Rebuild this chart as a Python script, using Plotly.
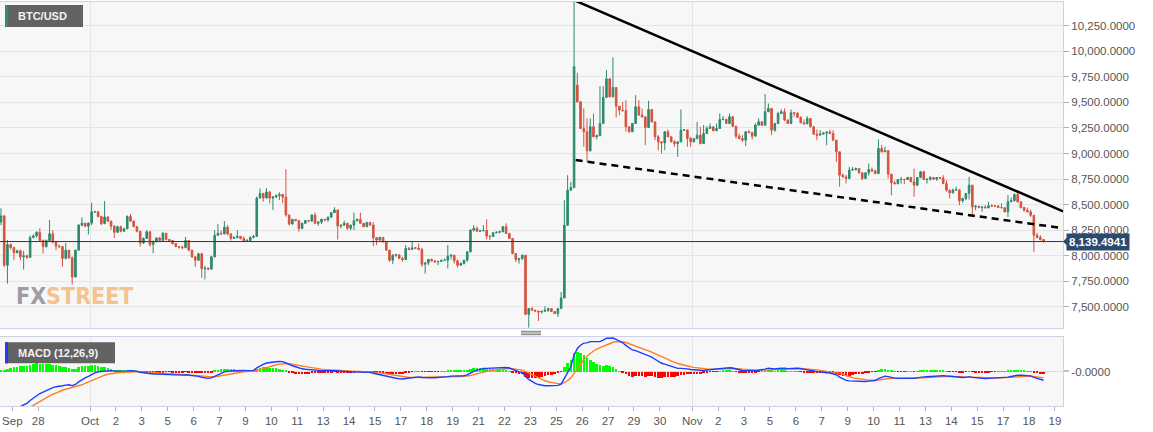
import pandas as pd
import plotly.graph_objects as go

# ---------------- data (4-hour BTC/USD candles) ----------------
start_time = "2019-09-26 10:00"
first_open = 8330
open_overrides = {178: 9669}

closes = [
    8390, 7908, 8110, 8080, 8030, 8050, 7990, 8000, 7985, 8180,
    8195, 8230, 8150, 8090, 8150, 8215, 8135, 8095, 8090, 7975,
    8055, 7980, 7793, 8055, 8300, 8320, 8290, 8320, 8430, 8430,
    8385, 8315, 8380, 8340, 8290, 8230, 8285, 8240, 8265, 8385,
    8340, 8285, 8240, 8125, 8170, 8235, 8110, 8140, 8175, 8150,
    8220, 8160, 8150, 8120, 8090, 8085, 8080, 8150, 8055, 7990,
    7957, 8020, 7875, 7880, 7870, 7990, 8200, 8220, 8215, 8280,
    8215, 8170, 8180, 8190, 8170, 8145, 8150, 8180, 8190, 8565,
    8610, 8565, 8625, 8565, 8575, 8590, 8600, 8575, 8400, 8311,
    8357, 8345, 8268, 8318, 8344, 8340, 8399, 8318, 8330, 8357,
    8350, 8377, 8422, 8449, 8291, 8300, 8318, 8270, 8300, 8344,
    8357, 8318, 8285, 8327, 8301, 8177, 8154, 8180, 8137, 8055,
    7957, 8006, 8010, 7974, 7964, 8072, 8062, 8078, 8075, 8062,
    7918, 7931, 7964, 7951, 7941, 7945, 7955, 7957, 7997, 8006,
    7951, 7908, 7925, 7957, 8039, 8252, 8268, 8240, 8245, 8248,
    8193, 8190, 8226, 8230, 8236, 8285, 8219, 8170, 8023, 7963,
    7973, 8006, 7428, 7484, 7467, 7460, 7450, 7458, 7467, 7484,
    7455, 7435, 7484, 7588, 8299, 8642, 8668, 9849, 9506, 9245,
    9213, 9027, 9262, 9164, 9175, 9294, 9549, 9731, 9555, 9646,
    9464, 9425, 9420, 9262, 9213, 9294, 9457, 9376, 9359, 9255,
    9431, 9310, 9164, 9115, 9105, 9213, 9164, 9115, 9098, 9115,
    9229, 9230, 9147, 9115, 9147, 9180, 9098, 9196, 9245, 9262,
    9223, 9245, 9333, 9335, 9294, 9360, 9268, 9170, 9147, 9131,
    9213, 9205, 9170, 9278, 9311, 9278, 9409, 9441, 9229, 9294,
    9392, 9409, 9327, 9294, 9399, 9395, 9353, 9301, 9290, 9343,
    9262, 9190, 9180, 9190, 9200, 9210, 9196, 9131, 9017, 8789,
    8772, 8756, 8838, 8844, 8854, 8812, 8756, 8812, 8844, 8830,
    8805, 9050, 9017, 9030, 8799, 8714, 8705, 8746, 8748, 8746,
    8766, 8724, 8691, 8766, 8821, 8746, 8750, 8766, 8750, 8766,
    8760, 8707, 8642, 8616, 8642, 8645, 8538, 8560, 8610, 8691,
    8479, 8485, 8472, 8478, 8470, 8490, 8488, 8486, 8472, 8470,
    8430, 8528, 8540, 8600, 8528, 8472, 8446, 8430, 8397, 8202,
    8179, 8159, 8139.4941,
]

highs = [
    8465, 8400, 8154, 8120, 8090, 8060, 8060, 8050, 8010, 8200,
    8210, 8240, 8270, 8160, 8160, 8350, 8250, 8140, 8110, 8095,
    8125, 8060, 7995, 8060, 8310, 8375, 8320, 8325, 8520, 8440,
    8440, 8390, 8535, 8385, 8340, 8300, 8295, 8295, 8275, 8395,
    8410, 8345, 8290, 8245, 8180, 8250, 8240, 8150, 8180, 8185,
    8235, 8225, 8165, 8155, 8125, 8095, 8100, 8185, 8155, 8060,
    7995, 8030, 8030, 7900, 7885, 8000, 8250, 8310, 8250, 8340,
    8300, 8220, 8190, 8250, 8195, 8190, 8165, 8190, 8205, 8580,
    8660, 8615, 8662, 8630, 8585, 8600, 8620, 8605, 8848, 8400,
    8360, 8360, 8350, 8325, 8350, 8350, 8405, 8422, 8340, 8365,
    8360, 8385, 8430, 8475, 8449, 8305, 8344, 8318, 8305, 8422,
    8365, 8422, 8320, 8330, 8330, 8327, 8180, 8185, 8180, 8137,
    8060, 8015, 8020, 8010, 7990, 8105, 8088, 8137, 8085, 8121,
    8078, 7935, 7970, 7974, 7957, 7950, 7965, 7974, 8105, 8015,
    8006, 7964, 7935, 7960, 8045, 8260, 8301, 8285, 8255, 8301,
    8357, 8200, 8230, 8240, 8245, 8290, 8318, 8220, 8170, 8025,
    7980, 8013, 8006, 7490, 7500, 7475, 7460, 7462, 7507, 7490,
    7488, 7460, 7490, 7647, 8544, 8788, 8723, 10500, 9790, 9510,
    9441, 9343, 9343, 9392, 9185, 9659, 9659, 9816, 9735, 9940,
    9650, 9464, 9506, 9522, 9265, 9300, 9571, 9522, 9441, 9360,
    9516, 9435, 9301, 9180, 9120, 9220, 9235, 9164, 9131, 9120,
    9431, 9240, 9235, 9164, 9150, 9310, 9262, 9278, 9268, 9294,
    9265, 9294, 9392, 9366, 9335, 9392, 9366, 9270, 9196, 9180,
    9220, 9229, 9213, 9294, 9343, 9311, 9582, 9490, 9441, 9300,
    9409, 9432, 9441, 9333, 9432, 9405, 9409, 9366, 9333, 9366,
    9343, 9265, 9236, 9229, 9210, 9215, 9232, 9229, 9131, 9017,
    8805, 8789, 8870, 8870, 8864, 8854, 8810, 8815, 8903, 8864,
    8844, 9138, 9082, 9066, 9033, 8799, 8735, 8750, 8772, 8752,
    8772, 8772, 8854, 8770, 8830, 8831, 8755, 8779, 8768, 8770,
    8768, 8789, 8740, 8645, 8658, 8675, 8645, 8570, 8615, 8772,
    8691, 8495, 8485, 8482, 8495, 8528, 8505, 8492, 8495, 8512,
    8472, 8593, 8570, 8610, 8626, 8528, 8479, 8472, 8453, 8397,
    8224, 8202, 8160,
]

lows = [
    8300, 7892, 7728, 8060, 7960, 8025, 7957, 7865, 7970, 7980,
    8170, 8180, 8140, 8023, 8080, 8140, 8120, 8055, 8075, 7895,
    7965, 7970, 7720, 7790, 8050, 8290, 8280, 8210, 8300, 8420,
    8375, 8300, 8310, 8330, 8255, 8175, 8225, 8230, 8235, 8260,
    8330, 8280, 8230, 8090, 8115, 8165, 8090, 8025, 8130, 8145,
    8150, 8150, 8140, 8110, 8085, 8070, 8065, 8075, 8045, 7980,
    7892, 7950, 7785, 7770, 7860, 7860, 7985, 8200, 8205, 8210,
    8200, 8150, 8165, 8170, 8160, 8135, 8140, 8140, 8170, 8185,
    8560, 8530, 8560, 8514, 8449, 8565, 8547, 8514, 8383, 8295,
    8305, 8335, 8236, 8260, 8310, 8330, 8335, 8310, 8295, 8311,
    8340, 8334, 8377, 8422, 8160, 8268, 8295, 8252, 8250, 8252,
    8334, 8311, 8280, 8280, 8295, 8095, 8105, 8150, 8130, 8050,
    7941, 7918, 7990, 7970, 7941, 7960, 8055, 8060, 8065, 8055,
    7892, 7826, 7908, 7945, 7935, 7908, 7940, 7950, 7875, 7964,
    7924, 7885, 7905, 7915, 7941, 8035, 8236, 8236, 8235, 8240,
    8160, 8154, 8185, 8220, 8220, 8230, 8215, 8165, 8015, 7941,
    7924, 7960, 7420, 7298, 7460, 7450, 7363, 7435, 7455, 7451,
    7450, 7430, 7402, 7480, 7585, 8290, 8635, 8660, 9500, 9240,
    9066, 8919, 9020, 9160, 9138, 9170, 9290, 9545, 9550, 9550,
    9353, 9376, 9410, 9213, 9205, 9210, 9290, 9370, 9350, 9082,
    9250, 9305, 9131, 9033, 9000, 9033, 9160, 9110, 9066, 8968,
    9110, 9220, 9066, 9066, 9110, 9140, 9090, 9095, 9190, 9240,
    9220, 9220, 9240, 9325, 9290, 9290, 9260, 9147, 9140, 9115,
    9072, 9200, 9138, 9170, 9275, 9270, 9275, 9405, 9180, 9213,
    9290, 9386, 9320, 9290, 9290, 9360, 9350, 9295, 9285, 9290,
    9255, 9185, 9131, 9180, 9190, 9082, 9190, 9125, 8919, 8675,
    8765, 8707, 8750, 8835, 8835, 8805, 8740, 8750, 8785, 8820,
    8795, 8798, 9010, 9015, 8756, 8593, 8700, 8700, 8705, 8701,
    8740, 8720, 8577, 8681, 8760, 8740, 8707, 8735, 8745, 8733,
    8752, 8700, 8626, 8561, 8610, 8635, 8495, 8518, 8544, 8551,
    8381, 8446, 8465, 8430, 8465, 8465, 8480, 8480, 8468, 8465,
    8425, 8381, 8525, 8530, 8520, 8463, 8430, 8425, 8381, 8039,
    8170, 8150, 8130,
]

tick_times = [
    "2019-09-27 00:00", "2019-09-28 08:00", "2019-10-01 00:00", "2019-10-02 08:00",
    "2019-10-03 16:00", "2019-10-05 00:00", "2019-10-06 08:00", "2019-10-07 16:00",
    "2019-10-09 00:00", "2019-10-10 08:00", "2019-10-11 16:00", "2019-10-13 00:00",
    "2019-10-14 08:00", "2019-10-15 16:00", "2019-10-17 00:00", "2019-10-18 08:00",
    "2019-10-19 16:00", "2019-10-21 00:00", "2019-10-22 08:00", "2019-10-23 16:00",
    "2019-10-25 00:00", "2019-10-26 08:00", "2019-10-27 16:00", "2019-10-29 00:00",
    "2019-10-30 08:00", "2019-11-01 00:00", "2019-11-02 08:00", "2019-11-03 16:00",
    "2019-11-05 00:00", "2019-11-06 08:00", "2019-11-07 16:00", "2019-11-09 00:00",
    "2019-11-10 08:00", "2019-11-11 16:00", "2019-11-13 00:00", "2019-11-14 08:00",
    "2019-11-15 16:00", "2019-11-17 00:00", "2019-11-18 08:00", "2019-11-19 16:00",
]
tick_labels = [
    "Sep", "28", "Oct", "2", "3", "5", "6", "7", "9", "10", "11", "13", "14", "15",
    "17", "18", "19", "21", "22", "23", "25", "26", "27", "29", "30", "Nov", "2", "3",
    "5", "6", "7", "9", "10", "11", "13", "14", "15", "17", "18", "19",
]
month_starts = ["2019-10-01 00:00", "2019-11-01 00:00"]

trend_upper_t = ["2019-10-25 22:00", "2019-11-20 02:00"]
trend_upper_p = [10500, 8436]
trend_lower_t = ["2019-10-26 00:00", "2019-11-20 02:00"]
trend_lower_p = [8936, 8270]
last_price = 8139.4941

macd_fast, macd_slow, macd_sig = 12, 26, 9
# indicator state carried in from before the visible window
ema_fast_seed, ema_slow_seed, signal_seed = 8360, 8975, -580

x_range = ["2019-09-26 08:48", "2019-11-20 02:00"]
price_range = [7294, 10482]

# ---------------- derived series ----------------
times = pd.date_range(start_time, periods=len(closes), freq="4h")
opens = [first_open] + closes[:-1]
for k, v in open_overrides.items():
    opens[k] = v
highs = [max(h, o, c) for h, o, c in zip(highs, opens, closes)]
lows = [min(l, o, c) for l, o, c in zip(lows, opens, closes)]

af, asl, ag = 2 / (macd_fast + 1), 2 / (macd_slow + 1), 2 / (macd_sig + 1)
ef, es, sg = ema_fast_seed, ema_slow_seed, signal_seed
macd, signal = [], []
for c in closes:
    ef += af * (c - ef)
    es += asl * (c - es)
    m = ef - es
    sg += ag * (m - sg)
    macd.append(m)
    signal.append(sg)
hist = [m - s for m, s in zip(macd, signal)]
R = max(macd) / 0.97

# ---------------- figure ----------------
GREEN = "#2c8a6e"
RED = "#d5533e"
GRID = "#e5e5e5"
BORDER = "#cdd3e6"
FONT = "Liberation Sans, Arial, sans-serif"

fig = go.Figure()
fig.add_trace(go.Candlestick(
    x=times, open=opens, high=highs, low=lows, close=closes,
    increasing=dict(line=dict(color=GREEN, width=1), fillcolor=GREEN),
    decreasing=dict(line=dict(color=RED, width=1), fillcolor=RED),
    whiskerwidth=0, xaxis="x", yaxis="y", hoverinfo="skip",
))
fig.add_trace(go.Scatter(x=trend_upper_t, y=trend_upper_p, mode="lines",
                         line=dict(color="black", width=2.5), xaxis="x", yaxis="y",
                         hoverinfo="skip"))
fig.add_trace(go.Scatter(x=trend_lower_t, y=trend_lower_p, mode="lines",
                         line=dict(color="black", width=2.5, dash="7px,5px"),
                         xaxis="x", yaxis="y", hoverinfo="skip"))

fig.add_trace(go.Bar(
    x=times, y=hist, marker=dict(color=["#00ff00" if h >= 0 else "#ff0000" for h in hist],
                                 line=dict(width=0)),
    width=4 * 3600 * 1000 * 0.8, xaxis="x2", yaxis="y2", hoverinfo="skip",
))
fig.add_trace(go.Scatter(x=times, y=signal, mode="lines", line=dict(color="#ff7f27", width=1.4),
                         xaxis="x2", yaxis="y2", hoverinfo="skip"))
fig.add_trace(go.Scatter(x=times, y=macd, mode="lines", line=dict(color="#1f3cff", width=1.4),
                         xaxis="x2", yaxis="y2", hoverinfo="skip"))

axis_common = dict(showline=True, mirror=True, linecolor=BORDER, linewidth=1, zeroline=False)

fig.update_layout(
    width=1153, height=432,
    margin=dict(l=0, r=90, t=2, b=26),
    paper_bgcolor="white", plot_bgcolor="#f7f7f7",
    showlegend=False, bargap=0,
    font=dict(family=FONT, size=11, color="#555555"),
    xaxis=dict(domain=[0, 1], anchor="y", type="date", range=x_range,
               rangeslider=dict(visible=False), showticklabels=False, ticks="",
               tickmode="array", tickvals=month_starts, showgrid=True, gridcolor=GRID,
               **axis_common),
    yaxis=dict(domain=[0.193, 1], anchor="x", side="right", range=price_range,
               tick0=0, dtick=250, tickformat=",.4f", ticks="outside", ticklen=5,
               tickcolor="#b0b0b0", showgrid=True, gridcolor=GRID,
               tickfont=dict(size=11.5, color="#555555"), **axis_common),
    xaxis2=dict(domain=[0, 1], anchor="y2", type="date", matches="x", range=x_range,
                tickmode="array", tickvals=tick_times, ticktext=tick_labels,
                ticks="outside", ticklen=4, tickcolor="#b0b0b0", showgrid=False,
                tickfont=dict(size=11.5, color="#555555"),
                minor=dict(tickmode="array", tickvals=month_starts, showgrid=True,
                           gridcolor=GRID, ticks=""),
                **axis_common),
    yaxis2=dict(domain=[0, 0.1708], anchor="x2", side="right", range=[-R, R],
                tickmode="array", tickvals=[0], ticktext=["-0.0000"], ticks="outside",
                ticklen=5, tickwidth=2, tickcolor="#c0c0c0", showgrid=True,
                gridcolor="#dcdcdc", tickfont=dict(size=11.5, color="#555555"),
                **axis_common),
)

# current price line and label
fig.add_shape(type="line", xref="x domain", yref="y", x0=0, x1=1,
              y0=last_price, y1=last_price, line=dict(color="#23395b", width=1))
tri = 4 * (price_range[1] - price_range[0]) / 326
fig.add_shape(type="path", xref="paper", yref="y", fillcolor="#2b4a6f", line=dict(width=0),
              path=f"M 1.0,{last_price} L 1.0038,{last_price + tri} L 1.0038,{last_price - tri} Z")
fig.add_annotation(x=1, xref="paper", y=last_price, yref="y", xanchor="left", yanchor="middle",
                   xshift=3, text=f"<b>{last_price:,.4f}</b>", showarrow=False,
                   font=dict(color="white", size=11.5, family=FONT),
                   bgcolor="#2b4a6f", borderpad=2)


def px(x):
    return x / 1063


def py(y):
    return (406 - y) / 404


# title boxes
fig.add_shape(type="rect", xref="paper", yref="paper", x0=px(5), x1=px(83), y0=py(27), y1=py(5),
              fillcolor="#626262", line=dict(width=0))
fig.add_shape(type="rect", xref="paper", yref="paper", x0=px(5), x1=px(8), y0=py(27), y1=py(5),
              fillcolor="#2e8b74", line=dict(width=0))
fig.add_annotation(x=px(16), y=py(16), xref="paper", yref="paper", xanchor="left",
                   yanchor="middle", text="<b>BTC/USD</b>", showarrow=False,
                   font=dict(color="#f2f2f2", size=11, family=FONT))
fig.add_shape(type="rect", xref="paper", yref="paper", x0=px(5), x1=px(115), y0=py(363.3),
              y1=py(342.3), fillcolor="#626262", line=dict(width=0))
fig.add_shape(type="rect", xref="paper", yref="paper", x0=px(5), x1=px(8), y0=py(363.3),
              y1=py(342.3), fillcolor="#1a3cff", line=dict(width=0))
fig.add_annotation(x=px(16), y=py(352.8), xref="paper", yref="paper", xanchor="left",
                   yanchor="middle", text="<b>MACD (12,26,9)</b>", showarrow=False,
                   font=dict(color="#f2f2f2", size=11, family=FONT))

# panel resize grip between the two panes
for gy in (331.3, 333.0, 334.7):
    fig.add_shape(type="line", xref="paper", yref="paper", x0=px(521), x1=px(541),
                  y0=py(gy), y1=py(gy), line=dict(color="#7a7a7a", width=1))

# watermark
fig.add_annotation(x=px(14), y=py(295.5), xref="paper", yref="paper", xanchor="left",
                   yanchor="middle", showarrow=False,
                   text="<b><span style='color:#9c9ea3'>FX</span>"
                        "<span style='color:#f3c48d'>STREET</span></b>",
                   font=dict(size=23, family="Liberation Sans Narrow, DejaVu Sans Condensed, sans-serif"))

fig.write_html("out.html", config=dict(displayModeBar=False),
               post_script="document.body.style.margin='0';")
